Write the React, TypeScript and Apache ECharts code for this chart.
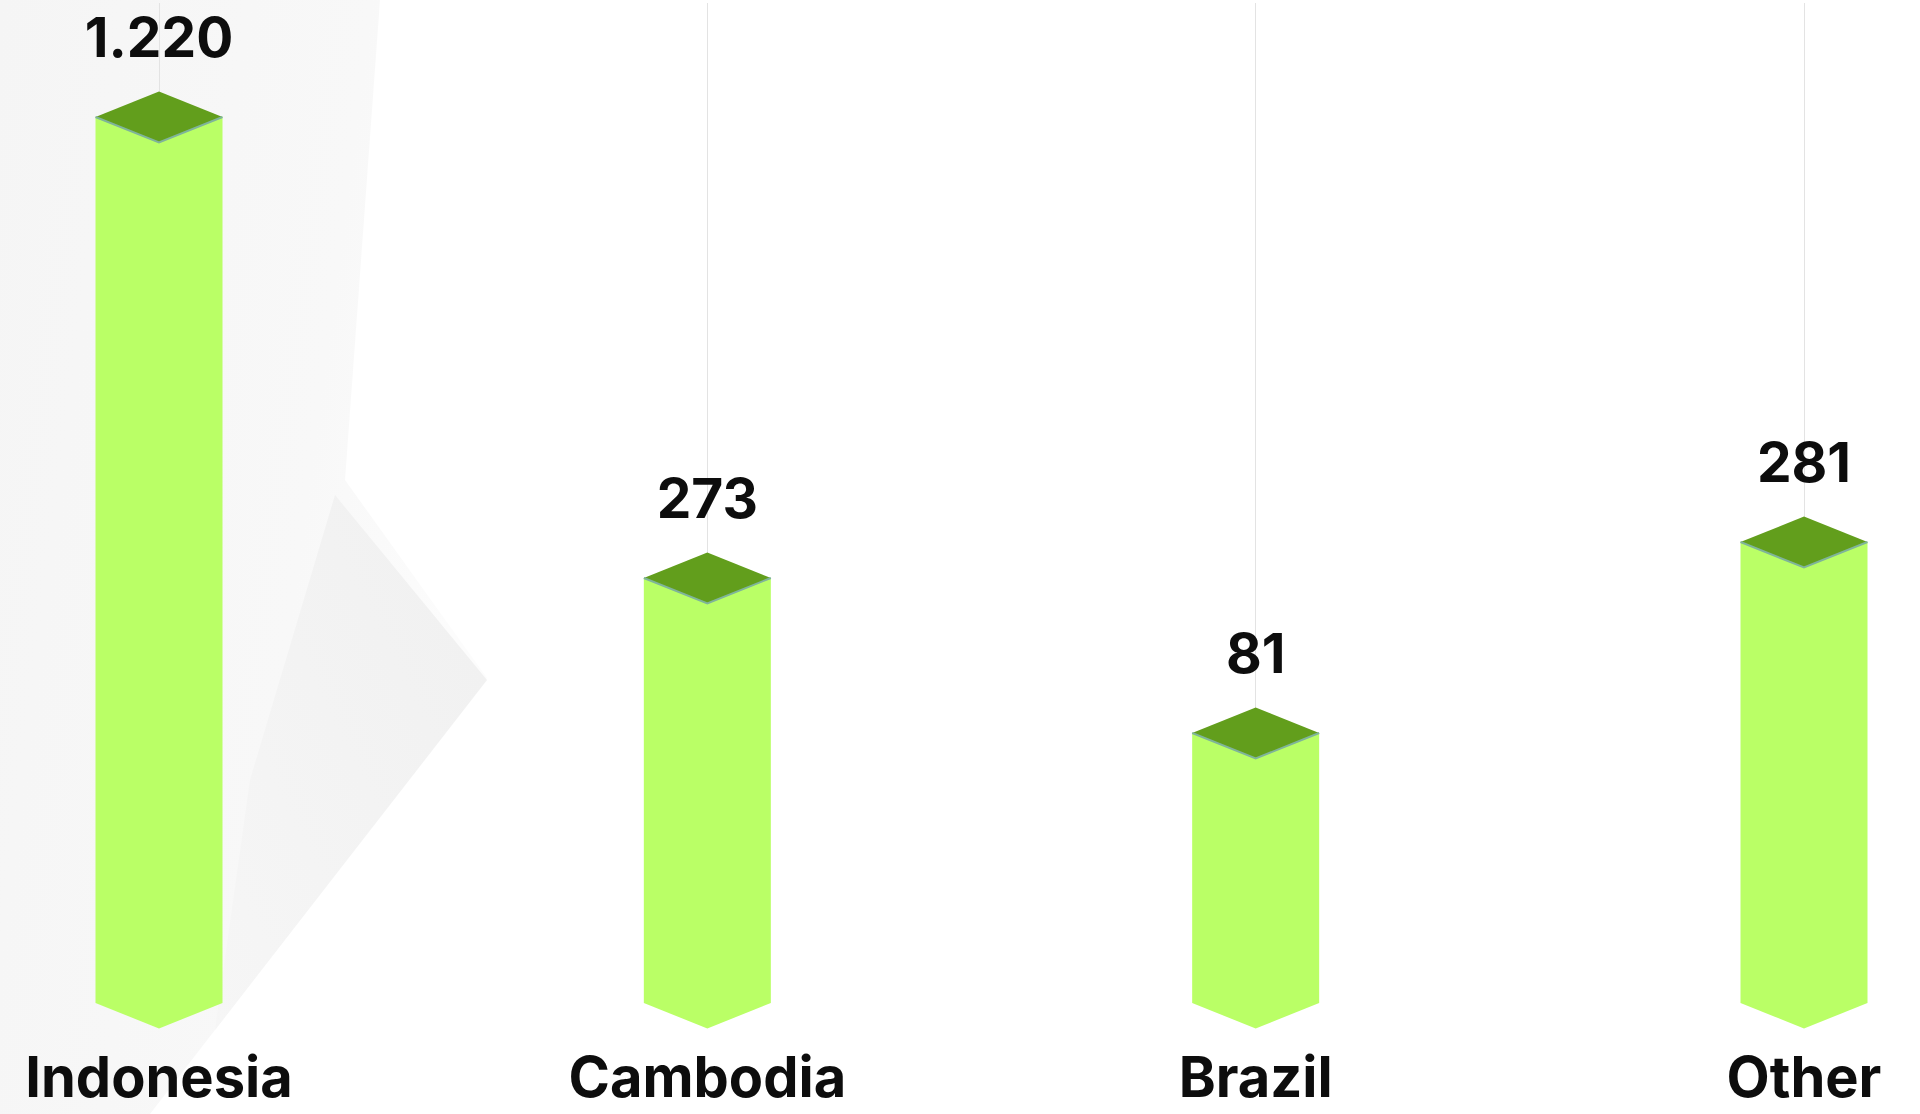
import React, { useEffect, useRef } from "react";
import * as echarts from "echarts";

// Categories (x axis)
const categories = ["Indonesia", "Cambodia", "Brazil", "Other"];
// Printed value labels above each column
const valueLabels = ["1.220", "273", "81", "281"];
// Visual column heights (relative units, 0..1000)
const barLevels = [886, 425, 270, 461];

const BAR_HALF = 63.5;
const CAP_HALF_H = 25.5;

export default function App() {
  const ref = useRef<HTMLDivElement>(null);

  useEffect(() => {
    if (!ref.current) return;
    const chart = echarts.init(ref.current, null, { renderer: "svg" });

    const option: any = {
      animation: false,
      backgroundColor: "#ffffff",
      graphic: [
        {
          type: "polygon",
          z: -20,
          silent: true,
          shape: {
            points: [
              [0, 0],
              [380, 0],
              [345, 480],
              [487, 678],
              [150, 1114],
              [0, 1114],
            ],
          },
          style: {
            fill: {
              type: "linear",
              x: 0,
              y: 0,
              x2: 1,
              y2: 0.3,
              colorStops: [
                { offset: 0, color: "#f5f5f5" },
                { offset: 0.7, color: "#f8f8f8" },
                { offset: 1, color: "#fcfcfc" },
              ],
            },
          },
        },
        {
          type: "polygon",
          z: -19,
          silent: true,
          shape: {
            points: [
              [335, 495],
              [487, 680],
              [215, 1030],
              [250, 780],
            ],
          },
          style: {
            fill: {
              type: "linear",
              x: 1,
              y: 0,
              x2: 0,
              y2: 1,
              colorStops: [
                { offset: 0, color: "#f0f0f0" },
                { offset: 1, color: "#f6f6f6" },
              ],
            },
          },
        },
      ],
      grid: { left: 159, right: 116, top: 3, bottom: 111, containLabel: false },
      xAxis: {
        type: "category",
        data: categories,
        boundaryGap: false,
        axisLine: { show: false },
        axisTick: { show: false },
        splitLine: { show: true, lineStyle: { color: "#e3e3e3", width: 1 } },
        axisLabel: {
          interval: 0,
          margin: 52,
          lineHeight: 44,
          fontFamily: "Inter",
          fontWeight: 700,
          fontSize: 56,
          color: "#0d0d0d",
        },
      },
      yAxis: {
        type: "value",
        min: 0,
        max: 1000,
        show: false,
        splitLine: { show: false },
      },
      series: [
        {
          type: "custom",
          data: barLevels.map((v, i) => [i, v]),
          renderItem: (params: any, api: any) => {
            const idx = api.value(0);
            const top = api.coord([idx, api.value(1)]);
            const base = api.coord([idx, 0]);
            const cx = top[0];
            const yt = top[1];
            const yb = base[1];
            const w = BAR_HALF;
            const h = CAP_HALF_H;
            return {
              type: "group",
              children: [
                {
                  type: "polygon",
                  shape: {
                    points: [
                      [cx - w, yt],
                      [cx - w, yb],
                      [cx, yb + h],
                      [cx + w, yb],
                      [cx + w, yt],
                    ],
                  },
                  style: { fill: "#baff66" },
                },
                {
                  type: "polygon",
                  shape: {
                    points: [
                      [cx, yt - h],
                      [cx + w, yt],
                      [cx, yt + h],
                      [cx - w, yt],
                    ],
                  },
                  style: { fill: "#629e1c" },
                },
                {
                  type: "polyline",
                  shape: {
                    points: [
                      [cx - w, yt],
                      [cx, yt + h],
                      [cx + w, yt],
                    ],
                  },
                  style: { stroke: "#7fb49a", lineWidth: 2, fill: null },
                },
                {
                  type: "text",
                  x: cx,
                  y: yt - 80,
                  style: {
                    text: valueLabels[idx],
                    fill: "#0d0d0d",
                    fontFamily: "Inter",
                    fontWeight: 700,
                    fontSize: 55,
                    align: "center",
                    verticalAlign: "middle",
                  },
                },
              ],
            };
          },
        },
      ],
    };

    chart.setOption(option);
    return () => chart.dispose();
  }, []);

  return (
    <div
      ref={ref}
      style={{ position: "fixed", left: 0, top: 0, width: 1920, height: 1114 }}
    />
  );
}
